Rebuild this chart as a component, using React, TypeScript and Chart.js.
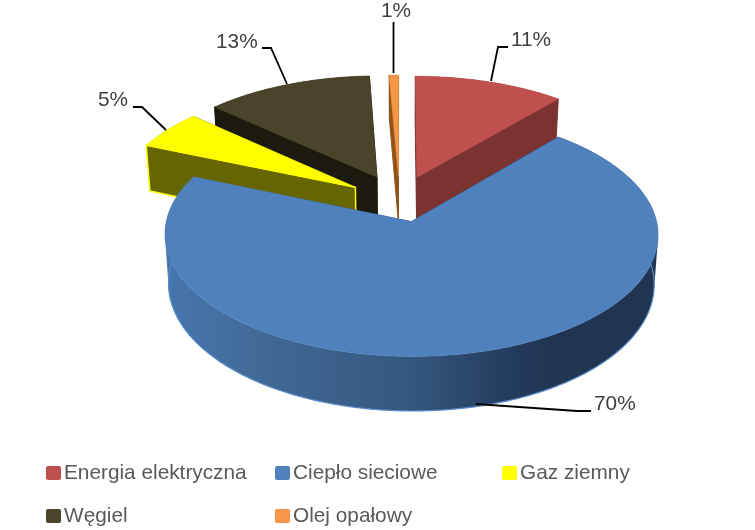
import React, { useEffect, useRef } from "react";
import { Chart, registerables } from "chart.js";

Chart.register(...registerables);

const categories = ["Energia elektryczna", "Ciepło sieciowe", "Gaz ziemny", "Węgiel", "Olej opałowy"];
const shares = [11.3, 70, 5.4, 12.6, 0.7];
const topColors = ["#C0504D", "#4F81BD", "#FFFF00", "#4A452A", "#F79646"];
const wallColors = ["#7A3331", "#1F3552", "#666600", "#1C1A0E", "#8F5518"];
const paintOrder = [3, 2, 0, 4, 1];
const explode = [48.4, 51, 48.4, 48.4, 48.4];
const sliceNudge: [number, number][] = [[1, 1], [0, 0], [-4, 2], [-2.5, 0], [0, 1]];

const PX = { A: 240, B: 115.5, P: 0.103, H: 48, Pd: 0.1, shrink: 0.985 };

const percentLabels = [
  { i: 0, x: 511, y: 40, line: [[508, 47], [498, 47], [491, 81]] },
  { i: 1, x: 594, y: 404, line: [[476, 404], [577, 411], [591, 411]] },
  { i: 2, x: 98, y: 100, line: [[133, 107], [142, 107], [166, 130]] },
  { i: 3, x: 216, y: 42, line: [[262, 48], [271, 48], [287, 84]] },
  { i: 4, x: 381, y: 11, line: [[393.5, 22], [393.5, 73]] },
];
const legendSlots = [
  [46, 473], [275, 473], [502, 473], [46, 516], [275, 516],
];

type Pt = [number, number];

function slicePoints(arc: any, nudge: Pt) {
  const p = arc.getProps(["x", "y", "startAngle", "endAngle", "outerRadius"], true);
  const mid = (p.startAngle + p.endAngle) / 2;
  const off = (arc.options.offset || 0) / p.outerRadius;
  const ox = off * Math.cos(mid);
  const oz = -off * Math.sin(mid);
  const proj = (X: number, Z: number, low: boolean): Pt => {
    const s = 1 / (1 + PX.P * Z);
    let x = p.x + X * PX.A * s;
    let y = p.y - Z * PX.B * s;
    if (low) {
      x = p.x + (x - p.x) * PX.shrink;
      y += PX.H / (1 + PX.Pd * Z);
    }
    return [x + nudge[0], y + nudge[1]];
  };
  const n = Math.max(2, Math.ceil((p.endAngle - p.startAngle) / 0.01));
  const top: Pt[] = [];
  const low: Pt[] = [];
  for (let k = 0; k <= n; k++) {
    const a = p.startAngle + ((p.endAngle - p.startAngle) * k) / n;
    top.push(proj(ox + Math.cos(a), oz - Math.sin(a), false));
    low.push(proj(ox + Math.cos(a), oz - Math.sin(a), true));
  }
  return { top, low, tipTop: proj(ox, oz, false), tipLow: proj(ox, oz, true) };
}

function fillPoly(ctx: CanvasRenderingContext2D, pts: Pt[], fill: any, stroke?: any, lw = 1) {
  ctx.beginPath();
  pts.forEach((q, i) => (i ? ctx.lineTo(q[0], q[1]) : ctx.moveTo(q[0], q[1])));
  ctx.closePath();
  ctx.fillStyle = fill;
  ctx.fill();
  ctx.strokeStyle = stroke || fill;
  ctx.lineWidth = lw;
  ctx.lineJoin = "round";
  ctx.stroke();
}

function fillWall(ctx: CanvasRenderingContext2D, top: Pt[], low: Pt[], fill: any) {
  ctx.beginPath();
  for (let k = 0; k + 1 < top.length; k++) {
    const q: Pt[] = [top[k], top[k + 1], low[k + 1], low[k]];
    let area = 0;
    q.forEach((a, j) => {
      const b = q[(j + 1) % 4];
      area += a[0] * b[1] - b[0] * a[1];
    });
    const o = area >= 0 ? q : [...q].reverse();
    ctx.moveTo(o[0][0], o[0][1]);
    ctx.lineTo(o[1][0], o[1][1]);
    ctx.lineTo(o[2][0], o[2][1]);
    ctx.lineTo(o[3][0], o[3][1]);
    ctx.closePath();
  }
  ctx.fillStyle = fill;
  ctx.fill("nonzero");
}

function strokeLine(ctx: CanvasRenderingContext2D, pts: Pt[], color: string, lw: number) {
  ctx.beginPath();
  pts.forEach((q, k) => (k ? ctx.lineTo(q[0], q[1]) : ctx.moveTo(q[0], q[1])));
  ctx.strokeStyle = color;
  ctx.lineWidth = lw;
  ctx.stroke();
}

const pie3d = {
  id: "pie3d",
  beforeDatasetDraw(chart: any) {
    const ctx: CanvasRenderingContext2D = chart.ctx;
    const arcs = chart.getDatasetMeta(0).data;
    paintOrder.forEach((i) => {
      const g = slicePoints(arcs[i], sliceNudge[i]);
      let wall: any = wallColors[i];
      if (i === 1) {
        const gr = ctx.createLinearGradient(165, 0, 658, 0);
        gr.addColorStop(0, "#4776AD");
        gr.addColorStop(0.2, "#416996");
        gr.addColorStop(0.5, "#34577F");
        gr.addColorStop(0.72, "#22395A");
        gr.addColorStop(0.8, "#1F3552");
        gr.addColorStop(1, "#1F3552");
        wall = gr;
      }
      const cutA: Pt[] = [g.tipTop, g.top[0], g.low[0], g.tipLow];
      const cutB: Pt[] = [g.tipTop, g.top[g.top.length - 1], g.low[g.low.length - 1], g.tipLow];
      fillPoly(ctx, cutB, wall);
      fillWall(ctx, g.top, g.low, wall);
      fillPoly(ctx, cutA, wall, i === 2 ? "#FFFF00" : undefined, i === 2 ? 1.5 : 1);
      if (i === 1) strokeLine(ctx, g.low, "#5B8CC8", 1.2);
      fillPoly(ctx, [g.tipTop, ...g.top], topColors[i], undefined, 0.6);
    });
    return false;
  },
  afterDraw(chart: any) {
    const ctx: CanvasRenderingContext2D = chart.ctx;
    ctx.save();
    ctx.textBaseline = "middle";
    ctx.textAlign = "left";
    ctx.font = '20.8px "Liberation Sans"';
    ctx.lineJoin = "miter";
    percentLabels.forEach((l) => {
      strokeLine(ctx, l.line as Pt[], "#000000", 1.8);
      ctx.fillStyle = "#404040";
      ctx.fillText(`${Math.round(shares[l.i])}%`, l.x, l.y);
    });
    categories.forEach((name, i) => {
      const [x, y] = legendSlots[i];
      ctx.fillStyle = topColors[i];
      ctx.beginPath();
      (ctx as any).roundRect(x, y - 7, 15, 14, 2);
      ctx.fill();
      ctx.fillStyle = "#595959";
      ctx.fillText(name, x + 18, y);
    });
    ctx.restore();
  },
};

export default function App() {
  const ref = useRef<HTMLCanvasElement>(null);
  useEffect(() => {
    const chart = new Chart(ref.current!, {
      type: "pie",
      data: {
        labels: categories,
        datasets: [
          {
            data: shares,
            backgroundColor: topColors,
            borderWidth: 0,
            offset: explode,
          },
        ],
      },
      options: {
        animation: false,
        responsive: false,
        radius: 242,
        layout: { padding: { left: 44, right: 0, top: 0, bottom: 135 } },
        plugins: { legend: { display: false }, tooltip: { enabled: false } },
      },
      plugins: [pie3d],
    } as any);
    return () => chart.destroy();
  }, []);
  return (
    <div style={{ position: "absolute", left: 0, top: 0, width: 755, height: 530, background: "#fff" }}>
      <canvas ref={ref} width={755} height={530} style={{ display: "block" }} />
    </div>
  );
}
